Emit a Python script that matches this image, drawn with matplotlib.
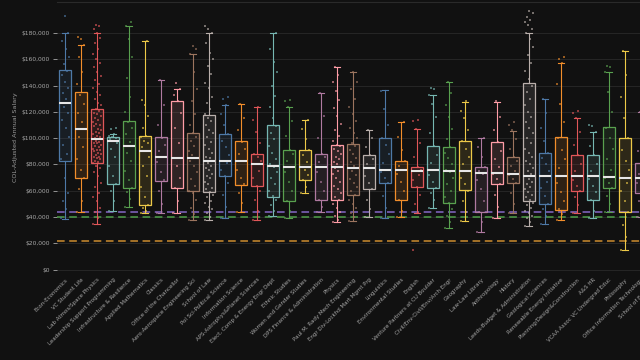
import numpy as np
import matplotlib
matplotlib.use("Agg")
import matplotlib.pyplot as plt
from matplotlib.colors import to_rgba
from matplotlib.ticker import FuncFormatter

# --- data (salaries in $1000s) ---
departments = [
    "Econ-Economics", "VC Student Life", "Lab Atmos/Space Physics",
    "Leadership Support Programming", "Infrastructure & Resilience", "Applied Mathematics",
    "Classics", "Office of the Chancellor", "Aero-Aerospace Engineering Sci",
    "School of Law", "Pol Sci-Political Science", "Information Science",
    "APS-Astrophys&Planet Sciences", "Elect, Comp & Energy Engr Dept", "Ethnic Studies",
    "Women and Gender Studies", "DPS Finance & Administration", "Physics",
    "Paul M. Rady Mech Engineering", "Engr Div-Lockhd Mart Mgmt Prg", "Linguistics",
    "Environmental Studies", "English", "Venture Partners at CU Boulder",
    "Civil/Env-Civil/Env/Arch Engr", "Geography", "Law-Law Library",
    "Anthropology", "History", "Leeds-Budget & Administration",
    "Geological Sciences", "Renewable Energy Initiative", "Planning/Design&Construction",
    "A&S HR", "VCAA Assoc VC Undergrad Educ", "Philosophy",
    "Office Information Technology", "School of Education",
]

medians = [127, 107, 99, 98, 94, 90, 86, 85, 85, 83, 83, 83, 80, 79, 78, 78, 78, 78, 77,
           77, 76, 76, 75, 76, 75, 74.7, 73.5, 73.5, 72.5, 71.5, 71.5, 71, 71, 71, 70.6,
           70, 69.7, 68]
q1 = [83, 70, 81, 65, 62, 49, 67.5, 62, 59.5, 58.7, 71, 64.6, 64, 55, 52, 68, 53, 53, 57,
      61, 65.6, 53, 63, 62, 51, 60.5, 44, 65, 65.6, 52, 50, 45.6, 59.5, 53, 62, 43.5, 58, 55]
q3 = [152, 135, 122, 101, 113, 102, 100.5, 128, 104, 117.5, 103, 97.5, 88, 110, 91, 91,
      88, 95, 95.5, 87, 100, 83, 78, 94, 93.5, 98, 78, 97, 86, 142, 89, 100.5, 87, 87,
      108.6, 100, 81, 85]
whisker_lo = [38.5, 43.5, 35, 45, 48, 43, 43, 43, 38, 38, 39, 44, 38, 41, 39, 58, 44, 36,
              37, 40, 39, 40, 43, 47, 31.7, 37, 29, 39, 43, 33, 35, 37.8, 43, 39, 44, 15,
              40, 38]
whisker_hi = [180, 171, 180, 103, 185, 174, 144, 137, 164, 180, 125, 126, 124, 180, 124,
              114, 134, 154, 150, 106, 136.5, 112, 107, 133, 143, 127.6, 100, 127.6, 105.6,
              180, 130, 157, 115, 105, 150, 166, 120, 120]

points = [
    [39, 46, 52, 58, 70, 84, 88, 95, 101, 108, 114, 119, 124, 127, 130, 134, 138, 143, 148,
     151, 156, 162, 168, 174, 180, 193],
    [44, 52, 61, 70, 76, 84, 93, 101, 107, 112, 119, 126, 133, 141, 150, 162, 171, 175, 177],
    [35, 39, 44, 47, 52, 55, 58, 63, 66, 71, 74, 77, 79, 81, 82, 83, 84, 85, 86, 86, 87, 88,
     89, 90, 91, 91, 92, 93, 94, 95, 96, 96, 97, 98, 99, 99, 100, 101, 102, 103, 104, 105,
     106, 107, 109, 110, 111, 112, 114, 115, 117, 118, 119, 121, 122, 125, 127, 130, 133,
     135, 138, 141, 144, 147, 150, 154, 157, 160, 164, 168, 172, 176, 180, 183, 185, 186],
    [45, 52, 60, 65, 71, 79, 86, 92, 96, 98, 99, 100, 101, 102, 103, 107, 108],
    [48, 54, 59, 62, 68, 75, 83, 89, 94, 97, 103, 108, 112, 120, 131, 146, 162, 175, 185, 188],
    [43, 45, 47, 49, 55, 63, 71, 79, 86, 90, 93, 96, 98, 101, 102, 108, 117, 125, 129, 174],
    [43, 50, 60, 68, 74, 82, 86, 90, 95, 100, 110, 125, 144],
    [43, 52, 62, 70, 79, 85, 96, 108, 119, 128, 133, 137, 142],
    [38, 42, 47, 53, 58, 60, 64, 69, 74, 79, 83, 85, 87, 90, 94, 98, 101, 104, 110, 118,
     128, 137, 150, 164, 168, 170],
    [38, 40, 43, 46, 48, 51, 52, 55, 57, 59, 61, 62, 65, 67, 70, 71, 73, 76, 77, 79, 81, 83,
     85, 86, 89, 92, 95, 97, 101, 104, 106, 110, 113, 115, 118, 122, 127, 131, 138, 142,
     149, 155, 160, 165, 172, 180, 183, 185],
    [39, 48, 57, 66, 71, 76, 81, 83, 87, 93, 98, 103, 110, 118, 125, 130, 131],
    [44, 51, 58, 65, 70, 76, 83, 88, 92, 97, 106, 115, 126],
    [38, 45, 53, 60, 64, 70, 75, 80, 83, 86, 88, 96, 105, 114, 124],
    [41, 45, 49, 53, 56, 60, 65, 70, 74, 78, 80, 84, 89, 94, 99, 104, 109, 115, 124, 132,
     140, 150, 158, 168, 180],
    [39, 45, 52, 60, 67, 74, 78, 83, 88, 91, 102, 113, 124, 128, 129],
    [58, 63, 68, 72, 76, 78, 82, 87, 91, 99, 107, 114],
    [44, 48, 53, 60, 67, 74, 78, 82, 86, 88, 100, 117, 134],
    [36, 38, 41, 44, 47, 50, 53, 55, 58, 61, 64, 67, 70, 73, 75, 77, 78, 80, 82, 84, 86, 88,
     90, 92, 94, 95, 98, 102, 106, 111, 117, 123, 129, 136, 143, 148, 154],
    [37, 40, 43, 47, 50, 53, 57, 60, 63, 66, 69, 72, 75, 77, 79, 82, 85, 88, 91, 94, 96,
     100, 104, 108, 113, 118, 124, 130, 137, 143, 150],
    [40, 46, 53, 61, 66, 71, 77, 80, 84, 87, 93, 100, 106],
    [39, 47, 56, 66, 70, 74, 76, 81, 88, 95, 100, 110, 122, 136],
    [40, 45, 53, 60, 67, 73, 76, 79, 83, 91, 101, 112],
    [15, 43, 50, 57, 63, 68, 72, 75, 76, 78, 86, 96, 107, 113, 114],
    [47, 53, 58, 62, 67, 72, 76, 81, 87, 94, 104, 116, 126, 133, 137, 138],
    [32, 36, 41, 46, 51, 55, 60, 65, 70, 74, 76, 80, 85, 89, 93, 99, 107, 116, 125, 134, 143],
    [37, 44, 52, 60, 65, 70, 75, 80, 86, 92, 98, 106, 115, 121, 128],
    [29, 36, 44, 52, 61, 68, 73, 75, 78, 86, 93, 100],
    [39, 48, 57, 65, 69, 73, 78, 84, 90, 97, 106, 116, 128],
    [43, 50, 58, 66, 69, 72, 75, 79, 83, 86, 92, 99, 106, 110, 112],
    [33, 36, 39, 41, 43, 45, 47, 49, 51, 53, 55, 57, 59, 61, 63, 65, 67, 69, 71, 73, 75, 77,
     80, 83, 86, 89, 92, 96, 100, 104, 108, 112, 116, 120, 125, 130, 135, 140, 145, 151,
     157, 163, 169, 175, 180, 183, 186, 188, 190, 192, 195, 197],
    [35, 41, 46, 50, 56, 62, 67, 71, 75, 80, 85, 89, 98, 108, 119, 130],
    [38, 42, 46, 52, 59, 66, 71, 77, 84, 91, 100, 112, 126, 141, 157, 160, 162],
    [43, 49, 55, 60, 64, 68, 71, 75, 80, 87, 95, 105, 115, 119, 121],
    [39, 45, 53, 59, 64, 69, 71, 75, 80, 87, 94, 105, 109, 110],
    [44, 50, 56, 62, 66, 70, 76, 84, 92, 100, 108, 120, 135, 150, 154, 155],
    [15, 25, 34, 44, 52, 60, 66, 70, 76, 83, 91, 100, 115, 131, 148, 166],
    [40, 46, 52, 58, 62, 66, 70, 73, 77, 81, 90, 102, 120],
    [38, 47, 55, 62, 68, 74, 85, 100, 120],
]

# reference lines
ref_lines = [44, 40, 22]
ref_colors = ["#8468c6", "#4fa04a", "#cc8c2e"]

PALETTE = ["#4e79a7", "#f28e2b", "#e15759", "#76b7b2", "#59a14f",
           "#edc948", "#b07aa1", "#ff9da7", "#9c755f", "#bab0ac"]
BG = "#111111"

fig = plt.figure(figsize=(6.4, 3.6), dpi=100, facecolor=BG)
# axes run past the right edge on purpose (the source is cropped there)
ax = fig.add_axes([57 / 640, 1 - 273 / 360, 608 / 640, 271 / 360])
ax.set_facecolor(BG)

n = len(departments)
stats = []
for i in range(n):
    stats.append(dict(med=medians[i] * 1000, q1=q1[i] * 1000, q3=q3[i] * 1000,
                      whislo=whisker_lo[i] * 1000, whishi=whisker_hi[i] * 1000))

bp = ax.bxp(stats, positions=range(n), widths=0.7, patch_artist=True,
            showfliers=False, manage_ticks=False)

for i in range(n):
    c = PALETTE[i % 10]
    box = bp["boxes"][i]
    box.set_facecolor(to_rgba(c, 0.13))
    box.set_edgecolor(c)
    box.set_linewidth(0.9)
    box.set_zorder(2)
    for art in (bp["whiskers"][2 * i], bp["whiskers"][2 * i + 1],
                bp["caps"][2 * i], bp["caps"][2 * i + 1]):
        art.set_color(c)
        art.set_linewidth(0.8)
        art.set_zorder(2)
    med = bp["medians"][i]
    med.set_color("#e6e6e6")
    med.set_linewidth(1.5)
    med.set_zorder(4)

    # jittered points (deterministic spread across the box width)
    vals = np.array(points[i]) * 1000
    offs = ((np.arange(len(vals)) * 0.618034) % 1 - 0.5) * 0.56
    ax.scatter(i + offs, vals, s=1.6, marker="s", color=c, alpha=0.6,
               linewidths=0, zorder=3)

for v, c in zip(ref_lines, ref_colors):
    ax.axhline(v * 1000, color=c, lw=1.1, ls=(0, (5, 3)), zorder=1.5)

ax.set_xlim(-0.5, n - 0.5)
ax.set_ylim(-2500, 203500)
ax.set_yticks(np.arange(0, 180001, 20000))
ax.yaxis.set_major_formatter(FuncFormatter(lambda v, p: f"${v:,.0f}"))
ax.yaxis.grid(True, color="#2a2a2a", lw=0.6)
ax.set_axisbelow(True)

ax.set_xticks(range(n))
ax.set_xticklabels(departments, rotation=45, ha="right", rotation_mode="anchor",
                   fontsize=4, color="#a8a8a8")
ax.tick_params(axis="x", length=0, pad=3)
ax.tick_params(axis="y", colors="#a8a8a8", labelsize=4.3, length=3, width=0.6, pad=2)
ax.set_ylabel("COL-Adjusted Annual Salary", color="#9a9a9a", fontsize=4.6, labelpad=3)

for s in ("left", "right", "bottom"):
    ax.spines[s].set_visible(False)
ax.spines["top"].set_color("#2a2a2a")
ax.spines["top"].set_linewidth(0.8)

fig.savefig("out.png", dpi=100, facecolor=BG)
